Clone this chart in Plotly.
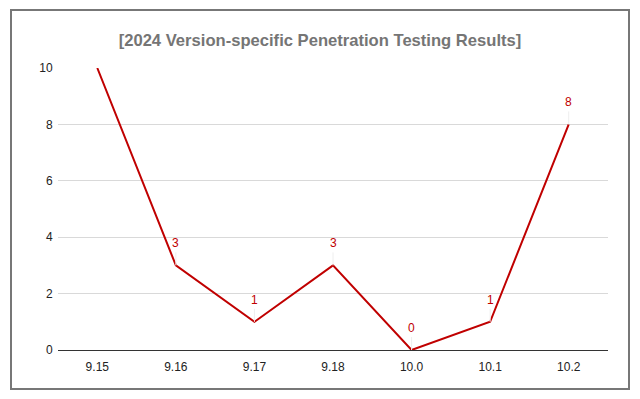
import plotly.graph_objects as go

versions = ["9.15", "9.16", "9.17", "9.18", "10.0", "10.1", "10.2"]
results = [10, 3, 1, 3, 0, 1, 8]
show_label = [False, True, True, True, True, True, True]
y_ticks = [0, 2, 4, 6, 8, 10]
title_text = "[2024 Version-specific Penetration Testing Results]"

RED = "#c00000"
FONT = "Liberation Sans, Arial, sans-serif"

# figure sized to fit inside the page's default 8px body margin
W, H = 624, 383
OFF = 8
L, T = 58 - OFF, 68 - OFF
pw, ph = 550, 282
R, B = W - L - pw, H - T - ph

def px_x(px):
    return (px - OFF - L) / pw

def px_y(py):
    return (T + ph - (py - OFF)) / ph

idx = list(range(len(versions)))

fig = go.Figure()
fig.add_trace(go.Scatter(
    x=idx, y=results, mode="lines",
    line=dict(color=RED, width=2), cliponaxis=False,
    text=versions, hovertemplate="%{text}: %{y}<extra></extra>", showlegend=False,
))

for i, r, s in zip(idx, results, show_label):
    if s:
        fig.add_annotation(
            x=i, y=r, text=str(r), showarrow=True, arrowhead=0,
            arrowcolor="#eeeeee", arrowwidth=1, ax=0, ay=-13,
            standoff=0, startstandoff=0,
            font=dict(family=FONT, size=12, color=RED),
            yanchor="bottom",
        )

fig.add_shape(
    type="rect", xref="paper", yref="paper",
    x0=px_x(11), x1=px_x(629), y0=px_y(389), y1=px_y(10),
    line=dict(color="#777777", width=2), fillcolor="rgba(0,0,0,0)", layer="below",
)

fig.update_layout(
    width=W, height=H,
    margin=dict(l=L, r=R, t=T, b=B),
    paper_bgcolor="white", plot_bgcolor="white",
    title=dict(text="<b>" + title_text + "</b>", x=(320 - OFF) / W, xanchor="center",
               y=1 - (40 - OFF) / H, yanchor="middle",
               font=dict(family=FONT, size=16.6, color="#757575")),
    xaxis=dict(range=[-0.5, len(versions) - 0.5], tickvals=idx, ticktext=versions,
               showgrid=False, ticks="outside", ticklen=6,
               tickcolor="rgba(0,0,0,0)", showline=False, zeroline=False,
               tickfont=dict(family=FONT, size=12, color="#222222")),
    yaxis=dict(range=[0, 10], tickvals=y_ticks, showgrid=True, gridcolor="#d9d9d9",
               gridwidth=1, zeroline=True, zerolinecolor="#333333", zerolinewidth=1,
               ticks="outside", ticklen=2, tickcolor="rgba(0,0,0,0)",
               tickfont=dict(family=FONT, size=12, color="#222222")),
)

fig.write_html("out.html")
